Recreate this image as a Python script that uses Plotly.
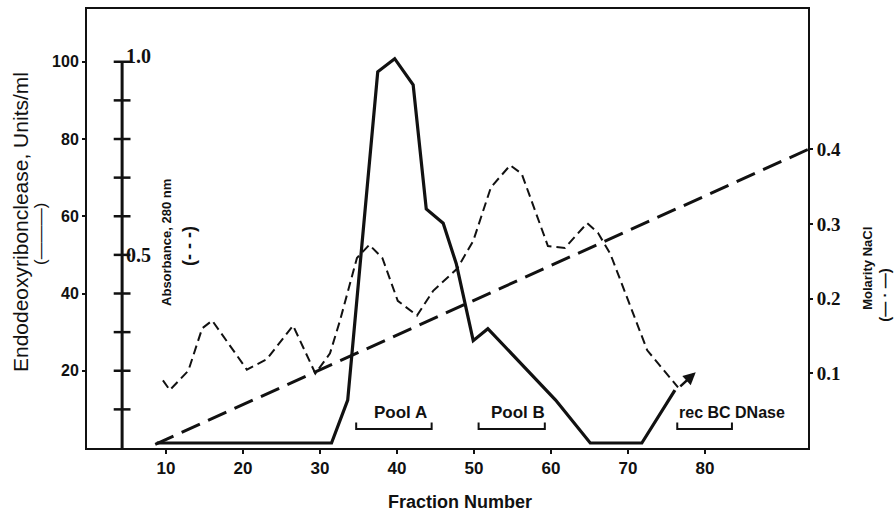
import plotly.graph_objects as go

# ---------------- data ----------------
fraction_act = [8.8, 31.5, 33.6, 37.5, 39.7, 42.1, 43.8, 46.0, 47.7, 49.9, 51.8, 60.6, 65.1, 71.8, 76.1]
activity = [1.3, 1.3, 12.4, 97.4, 100.8, 94.0, 61.9, 58.2, 47.7, 27.8, 30.9, 12.4, 1.3, 1.3, 15.0]

fraction_abs = [9.6, 10.5, 12.9, 14.7, 16.0, 20.5, 23.1, 26.5, 29.4, 31.3, 32.6, 34.8, 36.4, 38.1,
                40.1, 42.6, 44.7, 47.8, 49.9, 52.2, 54.7, 56.2, 59.6, 61.8, 64.7, 66.1, 67.7, 69.9,
                72.5, 76.5]
absorbance = [0.175, 0.15, 0.20, 0.31, 0.33, 0.203, 0.23, 0.317, 0.193, 0.245, 0.33, 0.492, 0.526,
              0.492, 0.381, 0.343, 0.407, 0.464, 0.536, 0.675, 0.732, 0.71, 0.523, 0.518, 0.582,
              0.557, 0.503, 0.389, 0.253, 0.157]

fraction_nacl = [8.6, 93.4]
molarity = [0.005, 0.40]

x_ticks = [10, 20, 30, 40, 50, 60, 70, 80]
act_ticks = [20, 40, 60, 80, 100]
abs_ticks = [0.1, 0.2, 0.3, 0.4, 0.5, 0.6, 0.7, 0.8, 0.9, 1.0]
abs_labels = {0.5: "0.5", 1.0: "1.0"}
nacl_ticks = [0.1, 0.2, 0.3, 0.4]
nacl_labels = ["0.1", "0.2", "0.3", "0.4"]
abs_axis_pos = 4.3

pools = [("Pool A", 34.7, 44.5), ("Pool B", 50.6, 59.2), ("rec BC DNase", 76.4, 83.5)]

# ---------------- styling ----------------
SANS = "Liberation Sans, Arial, sans-serif"
SERIF = "Liberation Serif, DejaVu Serif, serif"
INK = "#111111"


def bfont(size, family=SANS):
    return dict(family=family, size=size, color=INK, weight="bold")


fig = go.Figure()

# absorbance (dashed)
fig.add_trace(go.Scatter(x=fraction_abs, y=absorbance, mode="lines", yaxis="y3",
                         line=dict(color=INK, width=2, dash="9px,5px"), showlegend=False))
# molarity (long dash)
fig.add_trace(go.Scatter(x=fraction_nacl, y=molarity, mode="lines", yaxis="y2",
                         line=dict(color=INK, width=3, dash="20px,9px"), showlegend=False))
# activity (solid)
fig.add_trace(go.Scatter(x=fraction_act, y=activity, mode="lines", yaxis="y",
                         line=dict(color=INK, width=3.2), showlegend=False))

# inner absorbance scale
fig.add_trace(go.Scatter(x=[abs_axis_pos, abs_axis_pos], y=[0, abs_ticks[-1]], mode="lines", yaxis="y3",
                         line=dict(color=INK, width=3), showlegend=False))
fig.add_trace(go.Scatter(x=[abs_axis_pos] * len(abs_ticks), y=abs_ticks, mode="markers", yaxis="y3",
                         marker=dict(symbol="line-ew", size=12, line=dict(color=INK, width=2.5)),
                         showlegend=False))
for v, t in abs_labels.items():
    fig.add_annotation(x=abs_axis_pos, y=v, xref="x", yref="y3", text=t, showarrow=False,
                       xanchor="left", yanchor="middle", xshift=2,
                       yshift=0 if v < 1 else 6, font=bfont(20, SERIF))

# pool brackets
for name, a, b in pools:
    fig.add_trace(go.Scatter(x=[a, a, b, b], y=[6.6, 4.9, 4.9, 6.6], mode="lines", yaxis="y",
                             line=dict(color=INK, width=2), showlegend=False))
    if name.startswith("rec"):
        fig.add_annotation(x=a, y=9.2, xref="x", yref="y", text=name, showarrow=False,
                           xanchor="left", yanchor="middle", font=bfont(16))
    else:
        fig.add_annotation(x=(a + b) / 2 + 0.8, y=9.2, xref="x", yref="y", text=name, showarrow=False,
                           xanchor="center", yanchor="middle", font=bfont(17))

# arrow at the end of the profile
fig.add_annotation(x=fraction_act[-1] + 2.7, y=activity[-1] + 4.6, ax=fraction_act[-1] + 0.5,
                   ay=activity[-1] + 0.6, xref="x", yref="y", axref="x", ayref="y", text="",
                   showarrow=True, arrowhead=2, arrowsize=1, arrowwidth=2.5, arrowcolor=INK)


# axis titles
def ptx(px):
    return (px - 87) / 721.0


def pty(py):
    return (448 - py) / 441.0


titles = [
    ("Endodeoxyribonclease, Units/ml", 20, 221, dict(family=SANS, size=21, color=INK)),
    ("(———)", 41, 233, dict(family=SANS, size=17, color=INK)),
    ("Absorbance, 280 nm", 167, 242, bfont(13)),
    ("(- - -)", 189, 245, bfont(18)),
    ("Molarity NaCl", 868, 268, bfont(13)),
    ("(— · —)", 885, 295, bfont(15)),
]
for t, px, py, f in titles:
    fig.add_annotation(x=ptx(px), y=pty(py), xref="paper", yref="paper", text=t, showarrow=False,
                       xanchor="center", yanchor="middle", textangle=-90, font=f)

fig.add_annotation(x=ptx(460), y=pty(502), xref="paper", yref="paper", text="Fraction Number",
                   showarrow=False, xanchor="center", yanchor="middle", font=bfont(18))

fig.update_layout(
    width=894, height=514,
    margin=dict(l=87, r=86, t=7, b=66),
    paper_bgcolor="white", plot_bgcolor="white",
    font=dict(family=SANS, color=INK),
    xaxis=dict(range=[-0.26, 93.38], tickvals=x_ticks, ticks="outside", ticklen=4, tickwidth=2,
               tickcolor=INK, showline=True, linecolor=INK, linewidth=2, mirror=True,
               showgrid=False, zeroline=False, tickfont=bfont(17)),
    yaxis=dict(range=[0, 113.66], tickvals=act_ticks, ticks="outside", ticklen=3, tickwidth=2,
               tickcolor=INK, showline=True, linecolor=INK, linewidth=2, showgrid=False,
               zeroline=False, tickfont=bfont(16)),
    yaxis2=dict(range=[0, 0.588], overlaying="y", side="right", tickvals=nacl_ticks,
                ticktext=nacl_labels, ticks="outside", ticklen=3, tickwidth=2,
                tickcolor=INK, showline=True, linecolor=INK, linewidth=2, showgrid=False,
                zeroline=False, tickfont=bfont(19, SERIF)),
    yaxis3=dict(range=[0, 1.1366], overlaying="y", visible=False),
)

fig.write_html("out.html")
